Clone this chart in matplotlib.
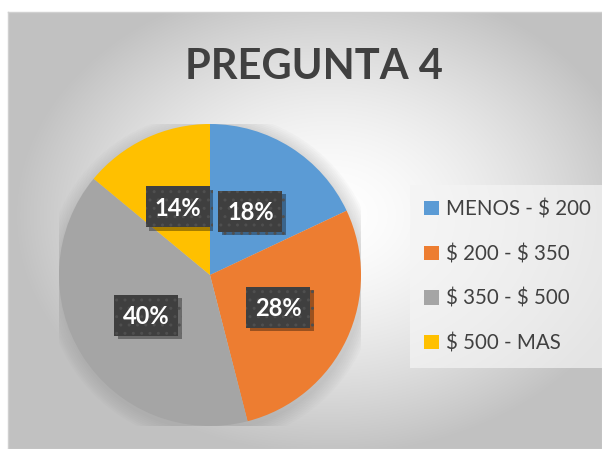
import numpy as np
import matplotlib
matplotlib.use("Agg")
import matplotlib.pyplot as plt
from matplotlib.patches import Rectangle, Circle, Patch
import matplotlib.patheffects as pe

# ---- data ----
title = "PREGUNTA 4"
categories = ["MENOS - $ 200", "$ 200 - $ 350", "$ 350 - $ 500", "$ 500 - MAS"]
values = [18, 28, 40, 14]
colors = ["#5B9BD5", "#ED7D31", "#A5A5A5", "#FFC000"]

plt.rcParams['font.family'] = ['Lato', 'DejaVu Sans']
plt.rcParams['text.parse_math'] = False
plt.rcParams['hatch.linewidth'] = 1.0

W, H = 602, 449
fig = plt.figure(figsize=(W / 100, H / 100), dpi=100, facecolor="white")

# ---- background chart area with radial gradient ----
x0, y0 = 8, 12  # top-left of chart area in pixels
bg = fig.add_axes([x0 / W, 0, (W - x0) / W, (H - y0) / H])
bw, bh = W - x0, H - y0
yy, xx = np.mgrid[0:bh, 0:bw]
cx, cy = 330 - x0, 215 - y0
ex = (xx - cx) / 330.0
ey = (yy - cy) / 250.0
r = np.sqrt(ex ** 2 + ey ** 2)
v = 1 - 0.26 * np.clip(r, 0, 2) ** 1.6
v = np.clip(v, 0.76, 1.0)
img = np.dstack([v, v, v])
bg.imshow(img, extent=[0, bw, bh, 0], aspect="auto", interpolation="bilinear")
bg.set_xlim(0, bw)
bg.set_ylim(bh, 0)
bg.set_xticks([])
bg.set_yticks([])
for s in bg.spines.values():
    s.set_color("#d0d0d0")
    s.set_linewidth(1)

# ---- pie ----
pcx, pcy, pr = 210, 275, 151
ax = fig.add_axes([(pcx - pr) / W, (H - pcy - pr) / H, 2 * pr / W, 2 * pr / H])
ax.set_facecolor("none")

# soft shadow behind pie
for i in range(8):
    ax.add_patch(Circle((0.01, -0.02), 1.0 + 0.012 * (i + 1), color="#808080",
                        alpha=0.035, lw=0, zorder=0))

wedges, _, autotexts = ax.pie(values, colors=colors, startangle=90, counterclock=False,
                              autopct="%1.0f%%", pctdistance=0.5,
                              wedgeprops=dict(linewidth=0),
                              textprops=dict(color="white", fontsize=17, fontweight="bold"))
ax.set_xlim(-1, 1)
ax.set_ylim(-1, 1)
ax.set_aspect("equal")
ax.axis("off")

bwid, bhei = 64 / pr, 41 / pr
for t in autotexts:
    x, y = t.get_position()
    rect = Rectangle((x - bwid / 2, y - bhei / 2), bwid, bhei, facecolor="#3f3f3f",
                     edgecolor="#4f4f4f", linewidth=0, hatch="..", zorder=3)
    rect.set_path_effects([pe.SimplePatchShadow(offset=(2.5, -2.5), alpha=0.35, shadow_rgbFace="black"),
                           pe.Normal()])
    ax.add_patch(rect)
    t.set_zorder(4)
    t.set_va("center")
    t.set_ha("center")
    t.set_position((x, y - 0.01))

# ---- title ----
fig.text(313.5 / W, 1 - 79 / H, title, ha="center", va="baseline",
         fontsize=30, fontweight="bold", color="#404040")

# ---- legend ----
handles = [Patch(facecolor=c, edgecolor="none") for c in colors]
leg = fig.legend(handles, categories, loc="upper left",
                 bbox_to_anchor=(410 / W, 1 - 185 / H),
                 frameon=True, fontsize=14.8, labelspacing=1.2,
                 handlelength=0.7, handleheight=0.7, handletextpad=0.35,
                 borderpad=0.7, borderaxespad=0, fancybox=False, labelcolor="#404040")
frame = leg.get_frame()
frame.set_facecolor("#f4f4f4")
frame.set_alpha(0.7)
frame.set_edgecolor("none")

fig.savefig("out.png", dpi=100, facecolor="white")
